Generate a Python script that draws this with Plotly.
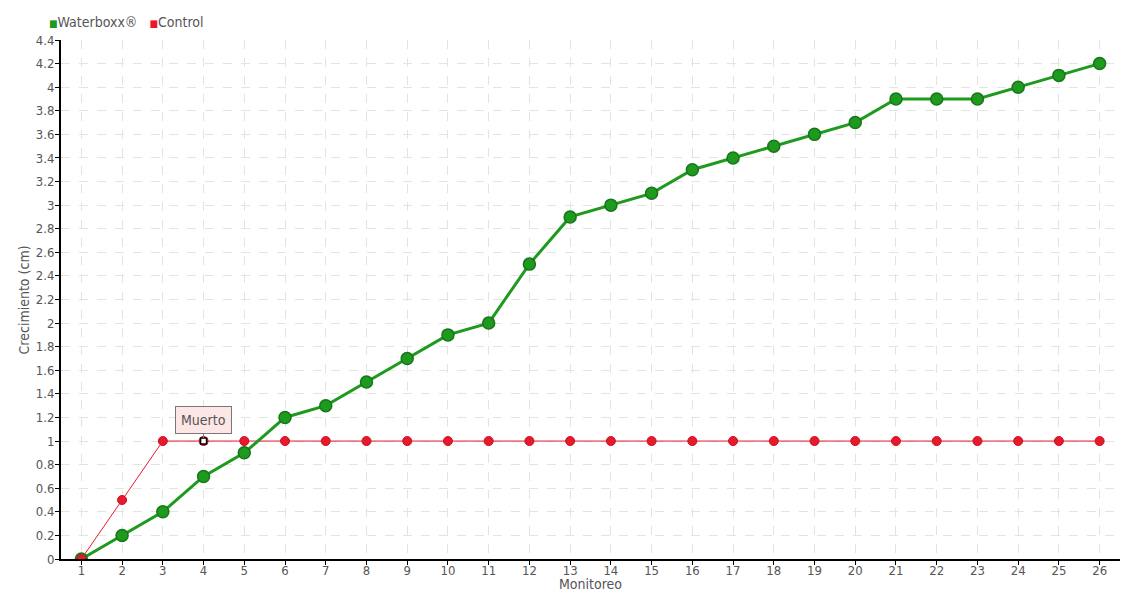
import plotly.graph_objects as go

monitoreo = list(range(1, 27))
waterboxx = [0, 0.2, 0.4, 0.7, 0.9, 1.2, 1.3, 1.5, 1.7, 1.9, 2.0, 2.5, 2.9,
             3.0, 3.1, 3.3, 3.4, 3.5, 3.6, 3.7, 3.9, 3.9, 3.9, 4.0, 4.1, 4.2]
control = [0, 0.5] + [1] * 24
y_ticks = [0, 0.2, 0.4, 0.6, 0.8, 1, 1.2, 1.4, 1.6, 1.8, 2, 2.2, 2.4, 2.6,
           2.8, 3, 3.2, 3.4, 3.6, 3.8, 4, 4.2, 4.4]

GREEN = "#1e9a1e"
RED = "#e8192c"
FONT = "DejaVu Sans Condensed, Liberation Sans Narrow, Roboto, sans-serif"

fig = go.Figure()

# control line underneath everything
fig.add_trace(go.Scatter(
    x=monitoreo, y=control, mode="lines",
    line=dict(color=RED, width=1), showlegend=False, hoverinfo="skip"
))

fig.add_trace(go.Scatter(
    x=monitoreo, y=waterboxx, mode="lines+markers", name="Waterboxx®",
    line=dict(color=GREEN, width=3),
    marker=dict(size=12, color=GREEN, line=dict(color="#17761a", width=1.5)),
    showlegend=False
))

# control markers on top
fig.add_trace(go.Scatter(
    x=monitoreo, y=control, mode="markers", name="Control",
    marker=dict(size=9, color=RED, line=dict(color="#c8101f", width=1)),
    showlegend=False
))

# highlighted point "Muerto"
fig.add_trace(go.Scatter(
    x=[monitoreo[3]], y=[control[3]], mode="markers",
    marker=dict(symbol="square", size=6, color="white",
                line=dict(color="black", width=1.5)),
    showlegend=False, hoverinfo="skip"
))

fig.add_annotation(
    x=monitoreo[3], y=control[3], text="Muerto",
    showarrow=True, arrowhead=0, arrowwidth=1, arrowcolor="#777",
    ax=0, ay=-21, standoff=3,
    bgcolor="#fde6e6", bordercolor="#777", borderwidth=1, borderpad=5,
    font=dict(size=14, color="#555", family=FONT)
)

# legend drawn as text with coloured squares
fig.add_annotation(
    xref="paper", yref="paper", x=-0.013, y=1.035, xanchor="left", yanchor="middle",
    text=f"<span style='color:{GREEN};font-size:10px'>■</span>Waterboxx®   "
         f"<span style='color:{RED};font-size:10px'>■</span>Control",
    showarrow=False, font=dict(size=14, color="#555", family=FONT)
)

# axis titles as annotations so they sit close to the tick labels
fig.add_annotation(
    xref="paper", yref="paper", x=0.5, y=-0.048, xanchor="center", yanchor="middle",
    text="Monitoreo", showarrow=False, font=dict(size=14, color="#555", family=FONT)
)
fig.add_annotation(
    xref="paper", yref="paper", x=-0.035, y=0.5, xanchor="center", yanchor="middle",
    text="Crecimiento (cm)", textangle=-90, showarrow=False,
    font=dict(size=14, color="#555", family=FONT)
)

fig.update_layout(
    width=1140, height=600,
    margin=dict(l=61, r=20, t=40, b=41, autoexpand=False),
    plot_bgcolor="white", paper_bgcolor="white",
    font=dict(family=FONT, size=13, color="#555"),
    showlegend=False,
    xaxis=dict(
        tickmode="array", tickvals=monitoreo, range=[0.5, 26.5],
        showline=True, linecolor="black", linewidth=2,
        ticks="outside", ticklen=4, tickcolor="black",
        ticklabelstandoff=-6,
        showgrid=True, gridcolor="#e3e3e3", griddash="dash", zeroline=False,
        automargin=False
    ),
    yaxis=dict(
        tickmode="array", tickvals=y_ticks, range=[0, 4.4],
        showline=True, linecolor="black", linewidth=2,
        ticks="outside", ticklen=4, tickcolor="black",
        ticklabelstandoff=-2,
        showgrid=True, gridcolor="#e3e3e3", griddash="dash", zeroline=False,
        automargin=False
    ),
)

fig.write_html("out.html", config={"displayModeBar": False},
               post_script="document.body.style.margin='0';")
